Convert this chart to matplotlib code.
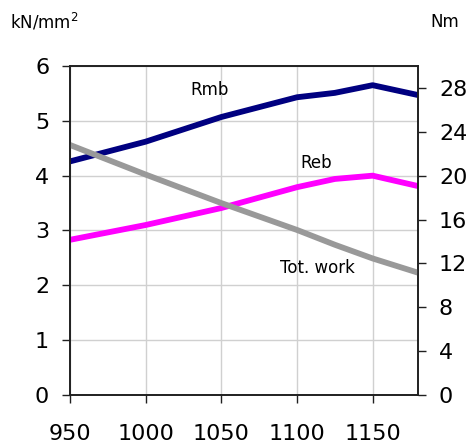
import matplotlib.pyplot as plt

plt.rcParams['font.family'] = ['DejaVu Sans']

# temperature (x) and curves
temp = [950, 1000, 1050, 1100, 1125, 1150, 1180]
rmb = [4.26, 4.62, 5.07, 5.43, 5.51, 5.65, 5.47]
reb = [2.83, 3.10, 3.41, 3.79, 3.94, 4.00, 3.81]
work_temp = [950, 1000, 1050, 1100, 1125, 1150, 1180]
tot_work = [22.8, 20.1, 17.5, 15.05, 13.7, 12.45, 11.15]

left_ticks = [0, 1, 2, 3, 4, 5, 6]
right_ticks = [0, 4, 8, 12, 16, 20, 24, 28]
x_ticks = [950, 1000, 1050, 1100, 1150]

fig = plt.figure(figsize=(4.71, 4.43), dpi=100)
ax = fig.add_axes([0.1486, 0.1084, 0.739, 0.7426])
ax2 = ax.twinx()

ax.plot(temp, rmb, color='#000080', lw=4.2, solid_capstyle='butt')
ax.plot(temp, reb, color='#FF00FF', lw=4.2, solid_capstyle='butt')
ax2.plot(work_temp, tot_work, color='#999999', lw=4.2, solid_capstyle='butt')

ax.set_xlim(950, 1180)
ax.set_ylim(0, 6)
ax2.set_ylim(0, 30)
ax.set_xticks(x_ticks)
ax.set_yticks(left_ticks)
ax2.set_yticks(right_ticks)

ax.grid(True, color='#d0d0d0', lw=1)
ax.set_axisbelow(True)
ax.set_zorder(ax2.get_zorder() - 1)
ax.patch.set_visible(False)

for a in (ax, ax2):
    for s in a.spines.values():
        s.set_color('#202020')
        s.set_linewidth(1.2)
    a.tick_params(labelsize=16, length=6, width=1, color='#202020', pad=9)
ax.tick_params(axis='x', pad=15)

# curve labels and axis units
fig.text(0.445, 0.797, 'Rmb', fontsize=12, ha='center', va='center')
fig.text(0.671, 0.632, 'Reb', fontsize=12, ha='center', va='center')
fig.text(0.675, 0.395, 'Tot. work', fontsize=12, ha='center', va='center')
fig.text(0.021, 0.95, 'kN/mm$^2$', fontsize=12, ha='left', va='center')
fig.text(0.945, 0.95, 'Nm', fontsize=12, ha='center', va='center')

fig.savefig('out.png', dpi=100)
